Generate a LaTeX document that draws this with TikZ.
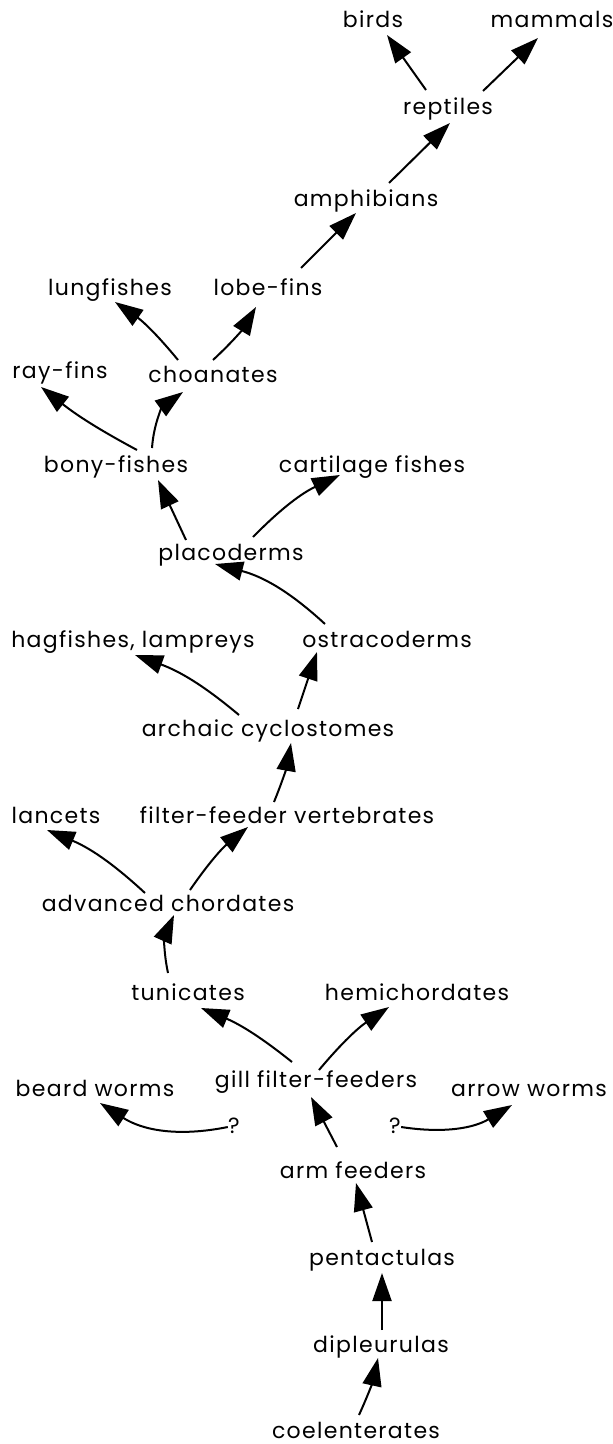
\documentclass[tikz,border=0pt]{standalone}
\usepackage{fontspec}
\setmainfont[LetterSpace=6]{Poppins}
\usetikzlibrary{arrows.meta}

\begin{document}
\begin{tikzpicture}[
  x=0.5pt, y=-0.5pt,
  taxon/.style={inner sep=0pt, text height=9pt, text depth=2.5pt,
                font=\fontsize{11}{14}\selectfont},
  descent/.style={-{Triangle[length=14pt,width=9.5pt]}, line width=1pt},
]
  \useasboundingbox (0,0) rectangle (613,1444);

  % land vertebrates
  \node[taxon] (birds)      at (373,21)  {birds};
  \node[taxon] (mammals)    at (552,21)  {mammals};
  \node[taxon] (reptiles)   at (448,108) {reptiles};
  \node[taxon] (amphibians) at (366,200) {amphibians};

  % fishes
  \node[taxon] (lungfishes) at (110,289) {lungfishes};
  \node[taxon] (lobefins)   at (268,289) {lobe-fins};
  \node[taxon] (rayfins)    at (60,372)  {ray-fins};
  \node[taxon] (choanates)  at (213,376) {choanates};
  \node[taxon] (bony)       at (116,466) {bony-fishes};
  \node[taxon] (cartilage)  at (372,466) {cartilage fishes};
  \node[taxon] (placo)      at (231,554) {placoderms};
  \node[taxon] (hagfish)    at (133,641) {hagfishes, lampreys};
  \node[taxon] (ostraco)    at (387,641) {ostracoderms};
  \node[taxon] (archaic)    at (268,730) {archaic cyclostomes};

  % chordates and below
  \node[taxon] (lancets)    at (56,817)  {lancets};
  \node[taxon] (filterv)    at (287,817) {filter-feeder vertebrates};
  \node[taxon] (advanced)   at (168,905) {advanced chordates};
  \node[taxon] (tunicates)  at (188,994) {tunicates};
  \node[taxon] (hemi)       at (417,994) {hemichordates};
  \node[taxon] (beard)      at (95,1090) {beard worms};
  \node[taxon] (gill)       at (316,1081) {gill filter-feeders};
  \node[taxon] (arrowworms) at (529,1090) {arrow worms};
  \node[taxon] (qleft)      at (234,1127) {?};
  \node[taxon] (qright)     at (395,1127) {?};
  \node[taxon] (arm)        at (353,1172) {arm feeders};
  \node[taxon] (penta)      at (382,1259) {pentactulas};
  \node[taxon] (dipleu)     at (381,1346) {dipleurulas};
  \node[taxon] (coel)       at (356,1432) {coelenterates};

  \draw[descent] ([shift={(-22,-18)}]reptiles.center) -- ([shift={(14,14)}]birds.center);
  \draw[descent] ([shift={(35,-17)}]reptiles.center) -- ([shift={(-14,17)}]mammals.center);
  \draw[descent] ([shift={(23,-17)}]amphibians.center) -- ([shift={(2,15)}]reptiles.center);
  \draw[descent] ([shift={(33,-21)}]lobefins.center) -- ([shift={(-10,13)}]amphibians.center);
  \draw[descent] ([shift={(-35,-16)}]choanates.center) to[bend right=8] ([shift={(5,13)}]lungfishes.center);
  \draw[descent] ([shift={(0,-16)}]choanates.center) to[bend right=8] ([shift={(-12,18)}]lobefins.center);
  \draw[descent] ([shift={(21,-16)}]bony.center) to[bend left=5] ([shift={(-19,15)}]rayfins.center);
  \draw[descent] ([shift={(36,-18)}]bony.center) to[bend left=25] ([shift={(-30,16)}]choanates.center);
  \draw[descent] ([shift={(-45,-14)}]placo.center) -- ([shift={(42,14)}]bony.center);
  \draw[descent] ([shift={(22,-17)}]placo.center) to[bend left=10] ([shift={(-32,9)}]cartilage.center);
  \draw[descent] ([shift={(-62,-17)}]ostraco.center) to[bend right=14] ([shift={(-16,10)}]placo.center);
  \draw[descent] ([shift={(-29,-15)}]archaic.center) to[bend right=10] ([shift={(2,14)}]hagfish.center);
  \draw[descent] ([shift={(30,-21)}]archaic.center) -- ([shift={(-70,11)}]ostraco.center);
  \draw[descent] ([shift={(-13,-15)}]filterv.center) to[bend right=6] ([shift={(23,13)}]archaic.center);
  \draw[descent] ([shift={(-23,-12)}]advanced.center) to[bend right=10] ([shift={(-9,13)}]lancets.center);
  \draw[descent] ([shift={(22,-15)}]advanced.center) to[bend left=8] ([shift={(-39,10)}]filterv.center);
  \draw[descent] ([shift={(-20,-21)}]tunicates.center) to[bend left=18] ([shift={(6,10)}]advanced.center);
  \draw[descent] ([shift={(-24,-19)}]gill.center) to[bend right=8] ([shift={(13,14)}]tunicates.center);
  \draw[descent] ([shift={(3,-11)}]gill.center) to[bend left=8] ([shift={(-28,13)}]hemi.center);
  \draw[descent] (qleft.west) to[bend left=22] ([shift={(5,13)}]beard.center);
  \draw[descent] (qright.east) to[bend right=20] ([shift={(-17,15)}]arrowworms.center);
  \draw[descent] ([shift={(-16,-25)}]arm.center) -- ([shift={(-5,16)}]gill.center);
  \draw[descent] ([shift={(-10,-17)}]penta.center) -- ([shift={(3,11)}]arm.center);
  \draw[descent] ([shift={(1,-16)}]dipleu.center) -- ([shift={(0,14)}]penta.center);
  \draw[descent] ([shift={(3,-17)}]coel.center) to[bend right=6] ([shift={(-3,12)}]dipleu.center);
\end{tikzpicture}
\end{document}
